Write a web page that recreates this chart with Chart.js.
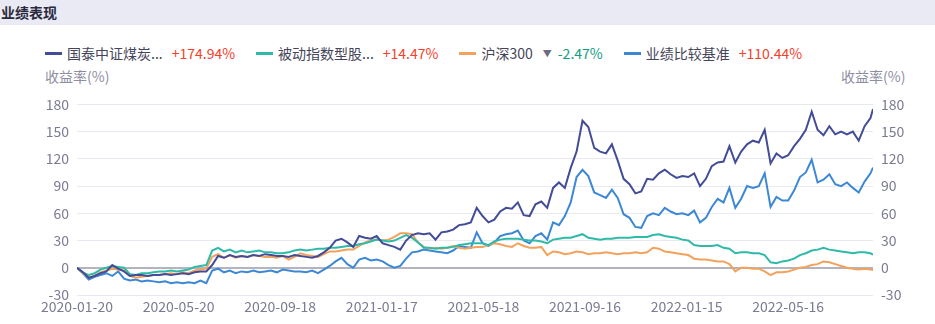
<!DOCTYPE html>
<html>
<head>
<meta charset="utf-8">
<script src="https://cdn.jsdelivr.net/npm/chart.js@4.4.1/dist/chart.umd.min.js"></script>
<style>
  body { margin: 0; width: 935px; height: 324px; background: #fff; position: relative; overflow: hidden;
         font-family: "Noto Sans CJK SC", "Noto Sans", sans-serif; }
  #head { position: absolute; left: 0; top: 0; width: 935px; height: 25px; background: #eaeaf4; }
  #head span { position: absolute; left: 1px; top: 2px; font-size: 14px; font-weight: bold; color: #2a2a3c;
               line-height: 20px; white-space: nowrap; }
  #legend { position: absolute; left: 45px; top: 43px; display: flex; align-items: center;
            font-size: 14px; color: #45455a; white-space: nowrap; }
  .item { display: flex; align-items: center; margin-right: 21px; }
  .sw { width: 17px; height: 3px; margin-right: 5px; }
  .val { margin-left: 9px; }
  .arrow { margin-left: 10px; font-size: 9px; color: #6b6b80; }
  .arrow + .val { margin-left: 6px; }
  .ytitle { position: absolute; top: 66px; font-size: 14px; color: #8e8ea2; }
  #chart { position: absolute; left: 0; top: 88px; }
</style>
</head>
<body>
<div id="head"><span>业绩表现</span></div>
<div id="legend"></div>
<div class="ytitle" style="left:45px">收益率(%)</div>
<div class="ytitle" style="left:841px">收益率(%)</div>
<canvas id="chart" width="935" height="236"></canvas>
<script>
// weekly samples from the start date, last sample on the end date
const startDate = '2020-01-20';
const endDate = '2022-08-25';
const stepDays = 7;

const tickDates = ['2020-01-20', '2020-05-20', '2020-09-18', '2021-01-17',
                   '2021-05-18', '2021-09-16', '2022-01-15', '2022-05-16'];

const seriesNames = ['国泰中证煤炭...', '被动指数型股...', '沪深300', '业绩比较基准'];

// cumulative return, %
const coalFund = [
  0, -5, -11, -9, -6, -4, 3, -1, -4, -9,
  -8, -8, -9, -8, -8, -7, -8, -7, -6, -7,
  -5, -4, -4, 3, 13, 11, 14, 12, 13, 12,
  14, 13, 15, 14, 13, 13, 12, 14, 13, 12,
  11, 13, 17, 22, 30, 32, 28, 23, 35, 33,
  32, 35, 27, 25, 23, 20, 30, 36, 38, 37,
  38, 31, 39, 40, 42, 47, 48, 50, 66, 57,
  50, 53, 62, 66, 65, 72, 58, 57, 70, 73,
  66, 88, 94, 88, 110, 128, 162, 155, 132, 128,
  126, 136, 118, 98, 92, 82, 84, 98, 97, 104,
  108, 103, 99, 101, 100, 104, 90, 98, 112, 116,
  117, 134, 116, 128, 136, 140, 138, 152, 115, 126,
  121, 124, 134, 142, 152, 172, 152, 146, 156, 147,
  150, 147, 150, 140, 156, 165, 174.94
];
const passiveIndex = [
  0, -5, -8, -6, -2, 0, 2, 1, 0, -7,
  -8, -6, -6, -5, -4, -4, -3, -4, -3, -2,
  1, 2, 3, 19, 22, 18, 20, 17, 19, 17,
  18, 19, 17, 17, 16, 16, 17, 19, 20, 19,
  20, 21, 21, 22, 22, 23, 24, 24, 26, 27,
  29, 31, 30, 29, 30, 33, 36, 33, 28, 22,
  22, 21, 22, 22, 23, 25, 26, 27, 27, 27,
  25, 29, 31, 32, 32, 32, 31, 30, 30, 29,
  27, 31, 32, 33, 33, 35, 37, 33, 32, 31,
  32, 32, 33, 33, 33, 34, 34, 34, 36, 37,
  35, 34, 33, 31, 30, 25, 24, 24, 24, 25,
  22, 21, 16, 17, 17, 16, 16, 14, 6, 5,
  7, 8, 10, 14, 16, 19, 20, 22, 20, 19,
  18, 17, 16, 17, 17, 16, 14.47
];
const csi300 = [
  0, -6, -11, -9, -5, -3, -1, -2, -3, -9,
  -11, -10, -9, -8, -8, -7, -6, -7, -5, -6,
  -3, -2, -1, 12, 15, 11, 14, 11, 13, 12,
  14, 13, 12, 12, 11, 13, 9, 12, 16, 14,
  13, 12, 15, 18, 18, 19, 20, 20, 24, 28,
  30, 31, 30, 31, 34, 38, 38, 37, 28, 23,
  21, 22, 21, 22, 24, 22, 21, 22, 23, 23,
  25, 27, 26, 24, 23, 27, 24, 22, 22, 23,
  14, 18, 17, 15, 16, 18, 17, 15, 16, 16,
  17, 16, 15, 16, 16, 17, 16, 17, 22, 21,
  18, 17, 16, 15, 14, 10, 9, 9, 8, 7,
  7, 4, -4, 0, 0, -1, -1, -4, -8, -5,
  -5, -4, -2, 0, 1, 3, 4, 7, 6, 4,
  2, 0, -1, -2, -1, -2, -2.47
];
const benchmark = [
  0, -6, -13, -10, -8, -6, -9, -4, -12, -14,
  -13, -15, -14, -15, -16, -15, -17, -16, -17, -16,
  -17, -14, -17, -3, -1, -5, -3, -6, -4, -5,
  -3, -5, -4, -3, -5, -2, -3, -4, -4, -5,
  -3, -6, -2, 2, 7, 11, 4, 0, 9, 11,
  8, 9, 7, 3, 0, 2, 10, 17, 18, 20,
  19, 18, 17, 16, 19, 24, 23, 22, 39, 27,
  24, 28, 35, 37, 38, 41, 30, 27, 35, 38,
  31, 50, 47, 57, 72, 100, 108, 101, 83, 80,
  77, 86, 77, 59, 55, 45, 44, 57, 60, 58,
  66, 62, 59, 60, 58, 63, 50, 55, 67, 76,
  72, 88, 66, 76, 90, 88, 90, 104, 67, 78,
  74, 74, 85, 100, 105, 119, 94, 97, 103, 92,
  90, 94, 88, 83, 95, 104, 110.44
];

const yTicks = [-30, 0, 30, 60, 90, 120, 150, 180];

const lineColors = ['#434c96', '#2fbaa8', '#f2a25c', '#3d88d5'];
const allSeries = [coalFund, passiveIndex, csi300, benchmark];

function dayOf(s) {
  return Math.round((Date.parse(s) - Date.parse(startDate)) / 864e5);
}
const lastDay = dayOf(endDate);
const tickDays = tickDates.map(dayOf);

// legend row with the final return of each line
const legend = document.getElementById('legend');
seriesNames.forEach((name, i) => {
  const last = allSeries[i][allSeries[i].length - 1];
  const item = document.createElement('div');
  item.className = 'item';
  let html = '<span class="sw" style="background:' + lineColors[i] + '"></span><span>' + name + '</span>';
  if (i === 2) html += '<span class="arrow">▼</span>';
  const txt = (last >= 0 ? '+' : '') + last.toFixed(2) + '%';
  html += '<span class="val" style="color:' + (last >= 0 ? '#f5402c' : '#139c7f') + '">' + txt + '</span>';
  item.innerHTML = html;
  legend.appendChild(item);
});

const tickColor = '#7b7b93';
const tickFont = { family: '"Noto Sans CJK SC", "Noto Sans", sans-serif', size: 14 };

const datasets = allSeries.map((vals, i) => ({
  label: seriesNames[i],
  data: vals.map((v, k) => ({ x: Math.min(k * stepDays, lastDay), y: v })),
  borderColor: lineColors[i],
  borderWidth: 2,
  pointRadius: 0,
  tension: 0,
  fill: false
}));

new Chart(document.getElementById('chart').getContext('2d'), {
  type: 'line',
  data: { datasets: datasets },
  options: {
    responsive: false,
    animation: false,
    layout: { padding: { top: 11, left: 0, right: 0, bottom: 0 } },
    plugins: { legend: { display: false }, tooltip: { enabled: false } },
    scales: {
      x: {
        type: 'linear',
        min: 0,
        max: lastDay,
        grid: { display: false, drawTicks: false },
        border: { display: false },
        afterBuildTicks: s => { s.ticks = tickDays.map(v => ({ value: v })); },
        afterFit: s => { s.height = 29; },
        ticks: {
          color: tickColor, font: tickFont, padding: 3,
          maxRotation: 0, autoSkip: false,
          callback: v => tickDates[tickDays.indexOf(v)] || ''
        }
      },
      y: {
        position: 'left',
        min: -30,
        max: 180,
        afterBuildTicks: s => { s.ticks = yTicks.map(v => ({ value: v })); },
        afterFit: s => { s.width = 77; },
        grid: {
          drawTicks: false,
          color: c => c.tick && c.tick.value === 0 ? '#b4b4c0' : '#e9e9f2',
          lineWidth: c => c.tick && c.tick.value === 0 ? 2 : 1
        },
        border: { display: false },
        ticks: { color: tickColor, font: tickFont, padding: 8 }
      },
      y2: {
        position: 'right',
        min: -30,
        max: 180,
        afterBuildTicks: s => { s.ticks = yTicks.map(v => ({ value: v })); },
        afterFit: s => { s.width = 62; },
        grid: { display: false, drawTicks: false },
        border: { display: false },
        ticks: { color: tickColor, font: tickFont, padding: 8 }
      }
    }
  }
});
</script>
</body>
</html>
